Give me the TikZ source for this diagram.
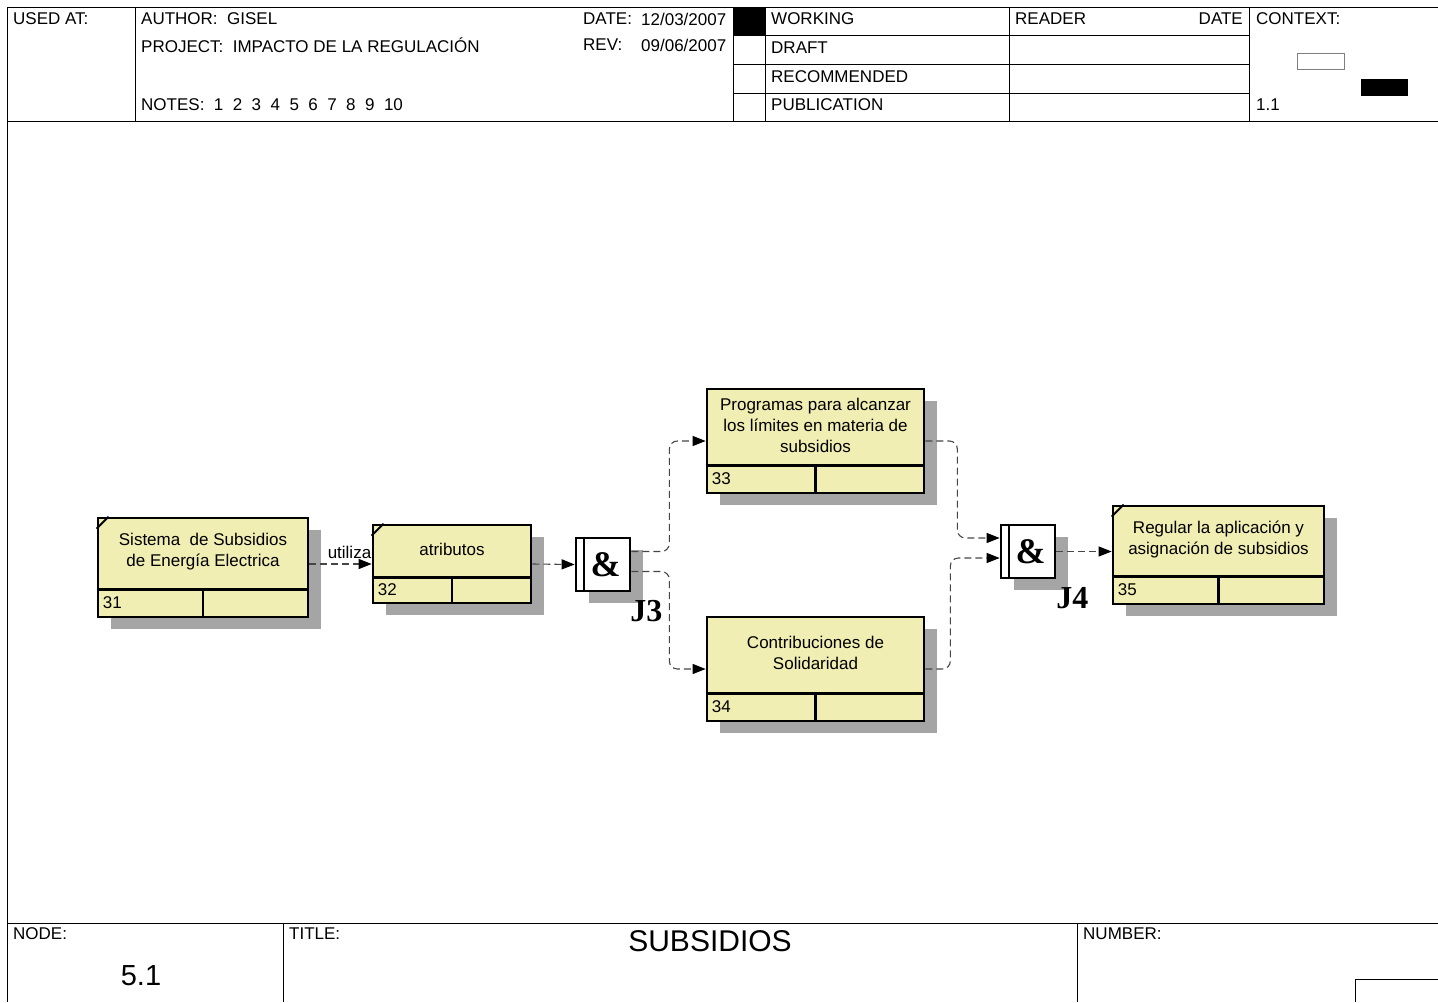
\documentclass[tikz,border=0pt]{standalone}
\usepackage{fontspec}
\setmainfont{Liberation Sans}
\newfontfamily\jfont{Liberation Serif}
\usetikzlibrary{arrows.meta,positioning,calc,shadows}
\definecolor{idefFill}{RGB}{240,238,178}
\definecolor{idefLine}{RGB}{70,70,70}
\definecolor{idefShade}{RGB}{165,165,165}

\begin{document}
\begin{tikzpicture}[x=1pt, y=-1pt,
    frame/.style={draw=black, line width=0.8pt},
    hdr/.style={anchor=west, inner sep=0pt, font=\fontsize{17}{20}\selectfont},
    act/.style={rectangle, draw=black, fill=idefFill, line width=2.7pt, inner sep=0pt,
                drop shadow={shadow xshift=13pt, shadow yshift=-12pt, fill=idefShade, opacity=1}},
    acttext/.style={align=center, inner sep=0pt, font=\fontsize{17}{21}\selectfont},
    num/.style={anchor=west, inner sep=0pt, font=\fontsize{17}{21}\selectfont},
    junc/.style={rectangle, draw=black, fill=white, line width=2.7pt, inner sep=0pt,
                 minimum width=54pt, minimum height=53pt, font=\jfont\bfseries\fontsize{36}{36}\selectfont,
                 drop shadow={shadow xshift=13pt, shadow yshift=-12pt, fill=idefShade, opacity=1}},
    jlab/.style={inner sep=0pt, font=\jfont\bfseries\fontsize{32}{32}\selectfont},
    flow/.style={draw=idefLine, line width=1.1pt, dash pattern=on 7pt off 4pt, rounded corners=8pt,
                 -{Triangle[length=13pt, width=10pt, color=black]}}
  ]
  \useasboundingbox (0,0) rectangle (1438,1002);

  % frame
  \draw[frame] (1438,7) -- (7,7) -- (7,1002);
  \draw[frame] (7,121) -- (1438,121);
  \draw[frame] (7,923) -- (1438,923);
  \draw[frame] (135,7) -- (135,121) (733,7) -- (733,121) (765,7) -- (765,121)
               (1009,7) -- (1009,121) (1249,7) -- (1249,121);
  \draw[frame] (733,35) -- (1249,35) (733,64) -- (1249,64) (733,93) -- (1249,93);
  \fill (733,7) rectangle (765,35);
  \draw[draw=gray, line width=0.8pt] (1297,53) rectangle (1344,69);
  \fill (1361,79) rectangle (1408,96);
  \draw[frame] (283,923) -- (283,1002) (1077,923) -- (1077,1002);
  \draw[frame] (1355,1002) -- (1355,979) -- (1438,979);

  % header
  \node[hdr] (usedat) at (13,19) {USED AT:};
  \node[hdr] (author) at (141,19) {AUTHOR:\ \ GISEL};
  \node[hdr] (project) at (141,45) {PROJECT:\ \ IMPACTO DE LA REGULACIÓN};
  \node[hdr] (notes) at (141,105) {NOTES:\ \ 1\ \ 2\ \ 3\ \ 4\ \ 5\ \ 6\ \ 7\ \ 8\ \ 9\ \ 10};
  \node[hdr] (date) at (583,19) {DATE:};
  \node[hdr] (dateval) at (641,19) {12/03/2007};
  \node[hdr] (rev) at (583,45) {REV:};
  \node[hdr] (revval) at (641,45) {09/06/2007};
  \node[hdr] (working) at (771,19) {WORKING};
  \node[hdr] (draft) at (771,48) {DRAFT};
  \node[hdr] (recom) at (771,77) {RECOMMENDED};
  \node[hdr] (public) at (771,105) {PUBLICATION};
  \node[hdr] (reader) at (1015,19) {READER};
  \node[hdr, anchor=east] (rdate) at (1243,19) {DATE};
  \node[hdr] (context) at (1256,19) {CONTEXT:};
  \node[hdr] (ctxnum) at (1256,105) {1.1};

  % footer
  \node[hdr] (nodelab) at (13,934) {NODE:};
  \node[inner sep=0pt, font=\fontsize{29}{30}\selectfont] (nodenum) at (141,976) {5.1};
  \node[hdr] (titlelab) at (289,934) {TITLE:};
  \node[inner sep=0pt, font=\fontsize{30}{32}\selectfont] (title) at (710,941) {SUBSIDIOS};
  \node[hdr] (numlab) at (1083,934) {NUMBER:};

  % activity boxes
  \node[act, minimum width=210pt, minimum height=99pt] (b31) at (203,567.5) {};
  \node[act, minimum width=158pt, minimum height=78pt] (b32) at (452,564) {};
  \node[act, minimum width=217pt, minimum height=104pt] (b33) at (815.5,441) {};
  \node[act, minimum width=217pt, minimum height=104pt] (b34) at (815.5,669) {};
  \node[act, minimum width=211pt, minimum height=98pt] (b35) at (1218.5,555) {};

  \foreach \n/\cell/\txt in {31/29/{Sistema\ \ de Subsidios\\de Energía Electrica},
                             32/27/{atributos},
                             33/29/{Programas para alcanzar\\los límites en materia de\\subsidios},
                             34/29/{Contribuciones de\\Solidaridad},
                             35/29/{Regular la aplicación y\\asignación de subsidios}} {
    \draw[line width=2.7pt] ([yshift=\cell]b\n.south west) -- ([yshift=\cell]b\n.south east)
                            ([yshift=\cell]b\n.south) -- (b\n.south);
    \node[num] (n\n) at ([xshift=6, yshift=\cell/2+1]b\n.south west) {\n};
    \node[acttext] (t\n) at ($(b\n.north)!0.5!([yshift=\cell]b\n.south)+(0,-1.5)$) {\txt};
  }
  % corner marks
  \foreach \n in {31,32,35}
    \draw[line width=2pt] ([yshift=-12]b\n.north west) -- ([xshift=12]b\n.north west);

  % junctions
  \node[junc] (j3) at (603,564.5) {\hspace{5pt}\&};
  \node[junc] (j4) at (1028,551.5) {\hspace{5pt}\&};
  \foreach \j in {j3,j4}
    \draw[line width=2pt] ([xshift=9]\j.north west) -- ([xshift=9]\j.south west);
  \node[jlab] (j3lab) at ([xshift=15, yshift=-19]j3.south east) {J3};
  \node[jlab] (j4lab) at ([xshift=16, yshift=-19]j4.south east) {J4};

  % links
  \draw[flow] (b31.east |- b32.west) -- node[above, xshift=9pt, inner sep=5pt, font=\fontsize{17}{20}\selectfont] (utiliza) {utiliza} (b32.west);
  \draw[flow] (b32.east) -- (j3.west);
  \draw[flow] ([yshift=13]j3.east) -- ++(38,0) |- (b33.west);
  \draw[flow] ([yshift=-7]j3.east) -- ++(38,0) |- (b34.west);
  \draw[flow] (b33.east) -- ++(32,0) |- ([yshift=13.5]j4.west);
  \draw[flow] (b34.east) -- ++(25,0) |- ([yshift=-6.5]j4.west);
  \draw[flow] (j4.east) -- (b35.west |- j4.east);
\end{tikzpicture}
\end{document}
